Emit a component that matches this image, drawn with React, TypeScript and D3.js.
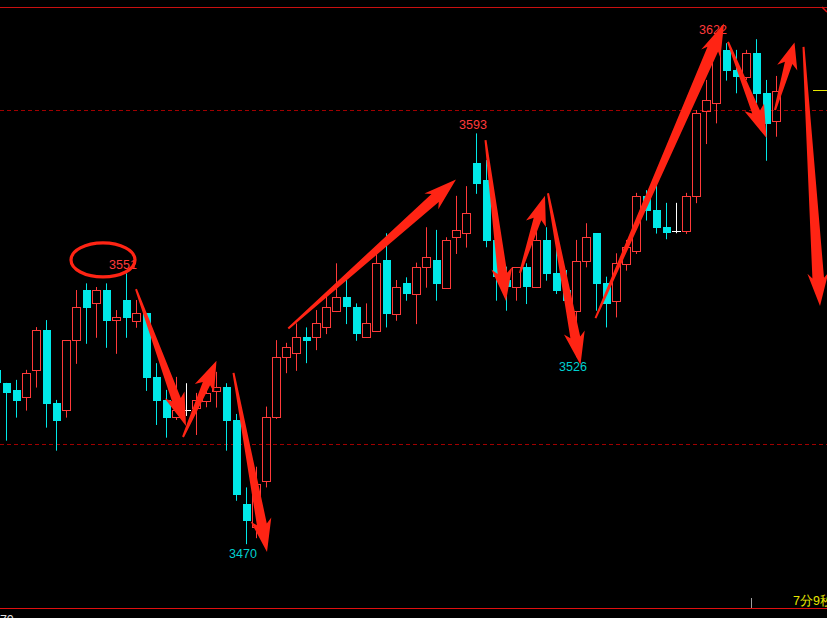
import React from "react";
import * as d3 from "d3";

const W = 827;
const H = 618;

// OHLC values, one per bar (bar index 0 is the partially visible bar at the left edge)
const opens = [3522.2, 3518.2, 3516.1, 3514.0, 3522.1, 3534.0, 3512.2, 3510.1, 3531.0, 3546.1, 3542.1, 3546.1, 3537.0, 3543.1, 3536.9, 3539.1, 3520.1, 3513.2, 3508.0, 3510.2, 3510.9, 3513.0, 3516.0, 3517.0, 3507.2, 3482.0, 3475.1, 3489.0, 3508.0, 3526.0, 3527.2, 3532.0, 3532.0, 3534.9, 3539.9, 3543.9, 3540.9, 3532.0, 3533.9, 3555.1, 3539.0, 3548.2, 3545.0, 3552.9, 3555.1, 3546.8, 3561.9, 3563.1, 3584.2, 3579.0, 3561.1, 3549.1, 3546.9, 3552.9, 3546.9, 3561.1, 3551.1, 3546.1, 3539.9, 3554.9, 3563.1, 3548.1, 3542.9, 3553.9, 3557.9, 3574.3, 3570.1, 3565.1, 3563.9, 3563.9, 3574.3, 3599.8, 3602.0, 3618.0, 3612.0, 3610.0, 3617.0, 3605.2, 3596.8];
const closes = [3518.3, 3515.2, 3513.0, 3521.2, 3534.0, 3512.1, 3507.0, 3531.0, 3540.9, 3540.8, 3546.0, 3536.9, 3537.9, 3537.8, 3539.1, 3519.8, 3513.0, 3507.9, 3510.2, 3510.2, 3513.2, 3515.2, 3517.0, 3507.0, 3484.8, 3477.0, 3488.0, 3508.0, 3526.0, 3528.9, 3532.0, 3530.9, 3536.1, 3540.9, 3543.9, 3540.9, 3532.9, 3536.1, 3554.1, 3538.9, 3546.9, 3544.9, 3552.9, 3555.9, 3547.9, 3561.1, 3564.0, 3569.1, 3577.8, 3560.9, 3549.9, 3547.1, 3552.9, 3546.9, 3561.1, 3550.9, 3545.9, 3542.9, 3554.9, 3561.9, 3547.9, 3541.9, 3554.1, 3558.9, 3574.3, 3569.9, 3564.8, 3563.1, 3563.9, 3574.3, 3599.0, 3603.0, 3618.0, 3611.8, 3610.0, 3617.0, 3604.8, 3595.8, 3605.8];
const highs = [3523.4, 3518.3, 3519.2, 3522.2, 3535.0, 3537.1, 3513.2, 3531.1, 3546.1, 3548.1, 3547.0, 3548.1, 3540.1, 3551.1, 3543.1, 3539.2, 3524.2, 3516.2, 3520.1, 3518.2, 3515.3, 3517.2, 3521.6, 3518.2, 3509.0, 3487.0, 3493.2, 3511.2, 3531.1, 3530.3, 3536.1, 3534.9, 3540.1, 3544.6, 3554.1, 3549.6, 3542.1, 3542.1, 3557.1, 3563.1, 3549.1, 3549.9, 3554.3, 3564.9, 3564.1, 3561.9, 3574.3, 3577.2, 3593.0, 3585.0, 3561.1, 3553.1, 3552.9, 3554.1, 3564.1, 3564.9, 3559.1, 3552.1, 3561.1, 3566.1, 3563.1, 3550.1, 3557.1, 3561.1, 3575.2, 3576.0, 3578.1, 3572.2, 3572.2, 3575.2, 3600.0, 3609.0, 3621.6, 3620.0, 3618.0, 3618.0, 3621.2, 3609.0, 3610.2];
const lows = [3514.7, 3501.0, 3507.9, 3510.0, 3516.9, 3504.9, 3498.0, 3507.9, 3524.0, 3530.0, 3531.8, 3528.8, 3527.0, 3531.8, 3534.8, 3515.9, 3505.7, 3501.9, 3507.2, 3508.4, 3502.7, 3511.0, 3510.9, 3498.0, 3483.0, 3470.0, 3471.8, 3487.0, 3507.5, 3521.2, 3521.9, 3524.2, 3528.1, 3532.9, 3539.5, 3535.9, 3530.9, 3531.8, 3533.7, 3534.9, 3536.9, 3542.9, 3535.9, 3546.8, 3542.9, 3546.6, 3556.9, 3558.8, 3574.9, 3558.9, 3542.9, 3539.9, 3542.9, 3541.9, 3546.7, 3548.9, 3544.9, 3541.6, 3526.0, 3552.9, 3539.9, 3534.9, 3537.9, 3551.9, 3556.9, 3566.9, 3563.0, 3561.3, 3563.1, 3562.9, 3572.1, 3589.8, 3596.0, 3608.8, 3605.0, 3609.0, 3602.0, 3584.8, 3592.0];

// price level guide lines
const guideLevels = [3600, 3500];

// extreme value labels: bar index, price, text, kind
const extremeIdx = [13, 48, 25, 58, 72];
const extremeText = ["3551", "3593", "3470", "3526", "3622"];
const extremeKind = ["high", "high", "low", "low", "high"];

// hand-drawn annotation arrows, in (bar index, price) coordinates: tail -> tip
const arrowTail: [number, number][] = [
  [13.95, 3546.4], [18.65, 3502.1], [23.7, 3521.3], [29.18, 3534.6], [48.9, 3591.0], [52.35, 3551.2],
  [55.15, 3575.1], [59.9, 3537.7], [73.15, 3620.4], [77.85, 3600.0], [80.7, 3618.9],
];
const arrowTip: [number, number][] = [
  [18.95, 3505.4], [22.0, 3524.9], [27.05, 3467.7], [45.95, 3579.2], [50.95, 3542.8], [54.85, 3574.3],
  [58.4, 3523.7], [72.75, 3625.9], [77.0, 3591.6], [79.8, 3620.2], [82.35, 3541.3],
];

// circle annotation around the 3551 label
const ellipseCenter: [number, number] = [10.65, 3555.1];

const CYAN = "#00e8e8";
const RED = "#ff3a3a";
const ARROW = "#ff2414";

function arrowPath(x1: number, y1: number, x2: number, y2: number): string {
  const dx = x2 - x1;
  const dy = y2 - y1;
  const L = Math.hypot(dx, dy);
  const ux = dx / L, uy = dy / L;
  const nx = -uy, ny = ux;
  const h = Math.min(28, L * 0.3);
  const hw = 10.5;
  const w0 = 1.0;
  const w1 = 3.2 + Math.min(2.6, L * 0.01);
  const bx = x2 - ux * h, by = y2 - uy * h;
  const back = 5;
  const pts: [number, number][] = [
    [x1 + nx * w0, y1 + ny * w0],
    [bx + nx * w1, by + ny * w1],
    [bx + nx * hw - ux * back, by + ny * hw - uy * back],
    [x2, y2],
    [bx - nx * hw - ux * back, by - ny * hw - uy * back],
    [bx - nx * w1, by - ny * w1],
    [x1 - nx * w0, y1 - ny * w0],
  ];
  return "M" + pts.map((p) => p[0].toFixed(1) + "," + p[1].toFixed(1)).join("L") + "Z";
}

export default function App() {
  const x = d3.scaleLinear().domain([0, 78]).range([-3.5, 776.5]);
  const y = d3.scaleLinear().domain([3500, 3600]).range([444, 110]);
  const font = "'Liberation Sans', Arial, sans-serif";

  const bars = opens.map((o, i) => {
    const c = closes[i];
    const cx = x(i);
    const yH = y(highs[i]);
    const yL = y(lows[i]);
    const yO = y(o);
    const yC = y(c);
    if (Math.abs(c - o) < 0.05) {
      return (
        <g key={i}>
          <line x1={cx} x2={cx} y1={yH} y2={yL} stroke="#ffffff" strokeWidth={1} />
          <line x1={cx - 4.5} x2={cx + 4.5} y1={Math.round(yO) + 0.5} y2={Math.round(yO) + 0.5} stroke="#ffffff" strokeWidth={1} />
        </g>
      );
    }
    if (c > o) {
      const top = Math.round(yC) + 0.5;
      const bot = Math.round(yO) + 0.5;
      return (
        <g key={i}>
          <line x1={cx} x2={cx} y1={yH} y2={top} stroke={RED} strokeWidth={1} />
          <line x1={cx} x2={cx} y1={bot} y2={yL} stroke={RED} strokeWidth={1} />
          <rect x={cx - 4} y={top} width={8} height={Math.max(1, bot - top)} fill="none" stroke={RED} strokeWidth={1} />
        </g>
      );
    }
    const top = Math.round(yO);
    const bot = Math.round(yC);
    return (
      <g key={i}>
        <line x1={cx} x2={cx} y1={yH} y2={yL} stroke={CYAN} strokeWidth={1} />
        <rect x={cx - 3.5} y={top} width={8} height={Math.max(1, bot - top)} fill={CYAN} />
      </g>
    );
  });

  return (
    <svg
      width={W}
      height={H}
      style={{ position: "fixed", left: 0, top: 0, background: "#000", display: "block" }}
    >
      <rect x={0} y={0} width={W} height={H} fill="#000" />
      {/* frame lines */}
      <line x1={0} x2={W} y1={7.5} y2={7.5} stroke="#c81010" strokeWidth={1} />
      <line x1={0} x2={W} y1={608.5} y2={608.5} stroke="#e01010" strokeWidth={1} />
      <line x1={822} x2={827} y1={7} y2={12} stroke="#e01010" strokeWidth={1.5} />
      {guideLevels.map((lv) => (
        <line
          key={lv}
          x1={0}
          x2={W}
          y1={Math.round(y(lv)) + 0.5}
          y2={Math.round(y(lv)) + 0.5}
          stroke="#a00000"
          strokeWidth={1}
          strokeDasharray="4,3"
        />
      ))}
      <line x1={813} x2={827} y1={90.5} y2={90.5} stroke="#e8e800" strokeWidth={1} />
      {bars}
      {extremeIdx.map((idx, j) => {
        const isHigh = extremeKind[j] === "high";
        const yy = isHigh ? y(highs[idx]) - 4 : y(lows[idx]) + 14;
        return (
          <text
            key={j}
            x={x(idx) - 3.5}
            y={yy}
            textAnchor="middle"
            fontFamily={font}
            fontSize={12.5}
            fill={isHigh ? "#ff3a3a" : "#00d0d0"}
          >
            {extremeText[j]}
          </text>
        );
      })}
      {arrowTail.map((t, j) => (
        <path
          key={j}
          d={arrowPath(x(t[0]), y(t[1]), x(arrowTip[j][0]), y(arrowTip[j][1]))}
          fill={ARROW}
        />
      ))}
      <ellipse
        cx={x(ellipseCenter[0])}
        cy={y(ellipseCenter[1])}
        rx={32}
        ry={17}
        fill="none"
        stroke={ARROW}
        strokeWidth={3.2}
      />
      {/* bottom status elements */}
      <line x1={751.5} x2={751.5} y1={598} y2={608} stroke="#a0a0a0" strokeWidth={1} />
      <text x={793} y={605} fontFamily={font} fontSize={12.5} fill="#e8e800">
        7分9秒
      </text>
      <text x={-14} y={624} fontFamily={font} fontSize={12.5} fill="#e0e0e0">
        3470
      </text>
    </svg>
  );
}
